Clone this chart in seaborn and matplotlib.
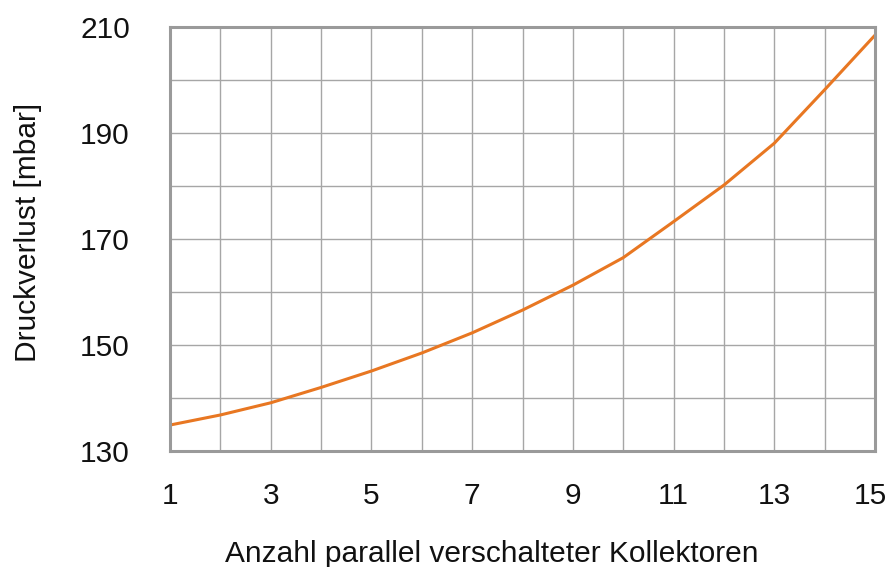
import numpy as np
import pandas as pd
import matplotlib
matplotlib.use("Agg")
import matplotlib.pyplot as plt
import matplotlib.transforms as mtransforms
import seaborn as sns

# Werte
kollektoren = [1, 2, 3, 4, 5, 6, 7, 8, 9, 10, 11, 12, 13, 14, 15]
druckverlust = [134.9, 136.8, 139.1, 142.0, 145.1, 148.5, 152.3, 156.6,
                161.3, 166.5, 173.3, 180.2, 188.1, 198.2, 208.5]

x_ticks = list(range(1, 16))
x_labels = [str(v) if v % 2 == 1 else "" for v in x_ticks]
y_ticks = list(range(130, 211, 10))
y_labels = [str(v) if v % 20 == 10 else "" for v in y_ticks]

df = pd.DataFrame({"n": kollektoren, "dp": druckverlust})

sns.set_theme(style="white")
plt.rcParams["font.family"] = ["Liberation Sans", "DejaVu Sans"]

fig = plt.figure(figsize=(8.87, 5.67), dpi=100)
ax = fig.add_axes([0.1917, 0.2046, 0.7948, 0.7474])

sns.lineplot(data=df, x="n", y="dp", ax=ax, color="#E87722", linewidth=2.2)

ax.set_xlim(1, 15)
ax.set_ylim(130, 210)
ax.set_xticks(x_ticks)
ax.set_xticklabels(x_labels)
ax.set_yticks(y_ticks)
ax.set_yticklabels(y_labels)
ax.grid(True, color="#a6a6a6", linewidth=1.0)
ax.tick_params(axis="both", length=0, labelsize=21.5, colors="#111111")
ax.tick_params(axis="x", pad=22)
ax.tick_params(axis="y", pad=29)

# letzte Beschriftung etwas nach links, damit "15" nicht abgeschnitten wird
last = ax.get_xticklabels()[-1]
last.set_transform(last.get_transform() +
                   mtransforms.ScaledTranslation(-5 / 100, 0, fig.dpi_scale_trans))

for s in ax.spines.values():
    s.set_visible(True)
    s.set_color("#9a9a9a")
    s.set_linewidth(2.2)

ax.set_xlabel("Anzahl parallel verschalteter Kollektoren", fontsize=21.5,
              color="#111111")
ax.set_ylabel("Druckverlust [mbar]", fontsize=21.5, color="#111111")
ax.xaxis.set_label_coords(0.457, -0.21)
ax.yaxis.set_label_coords(-0.181, 0.515)

fig.savefig("out.png", dpi=100)
